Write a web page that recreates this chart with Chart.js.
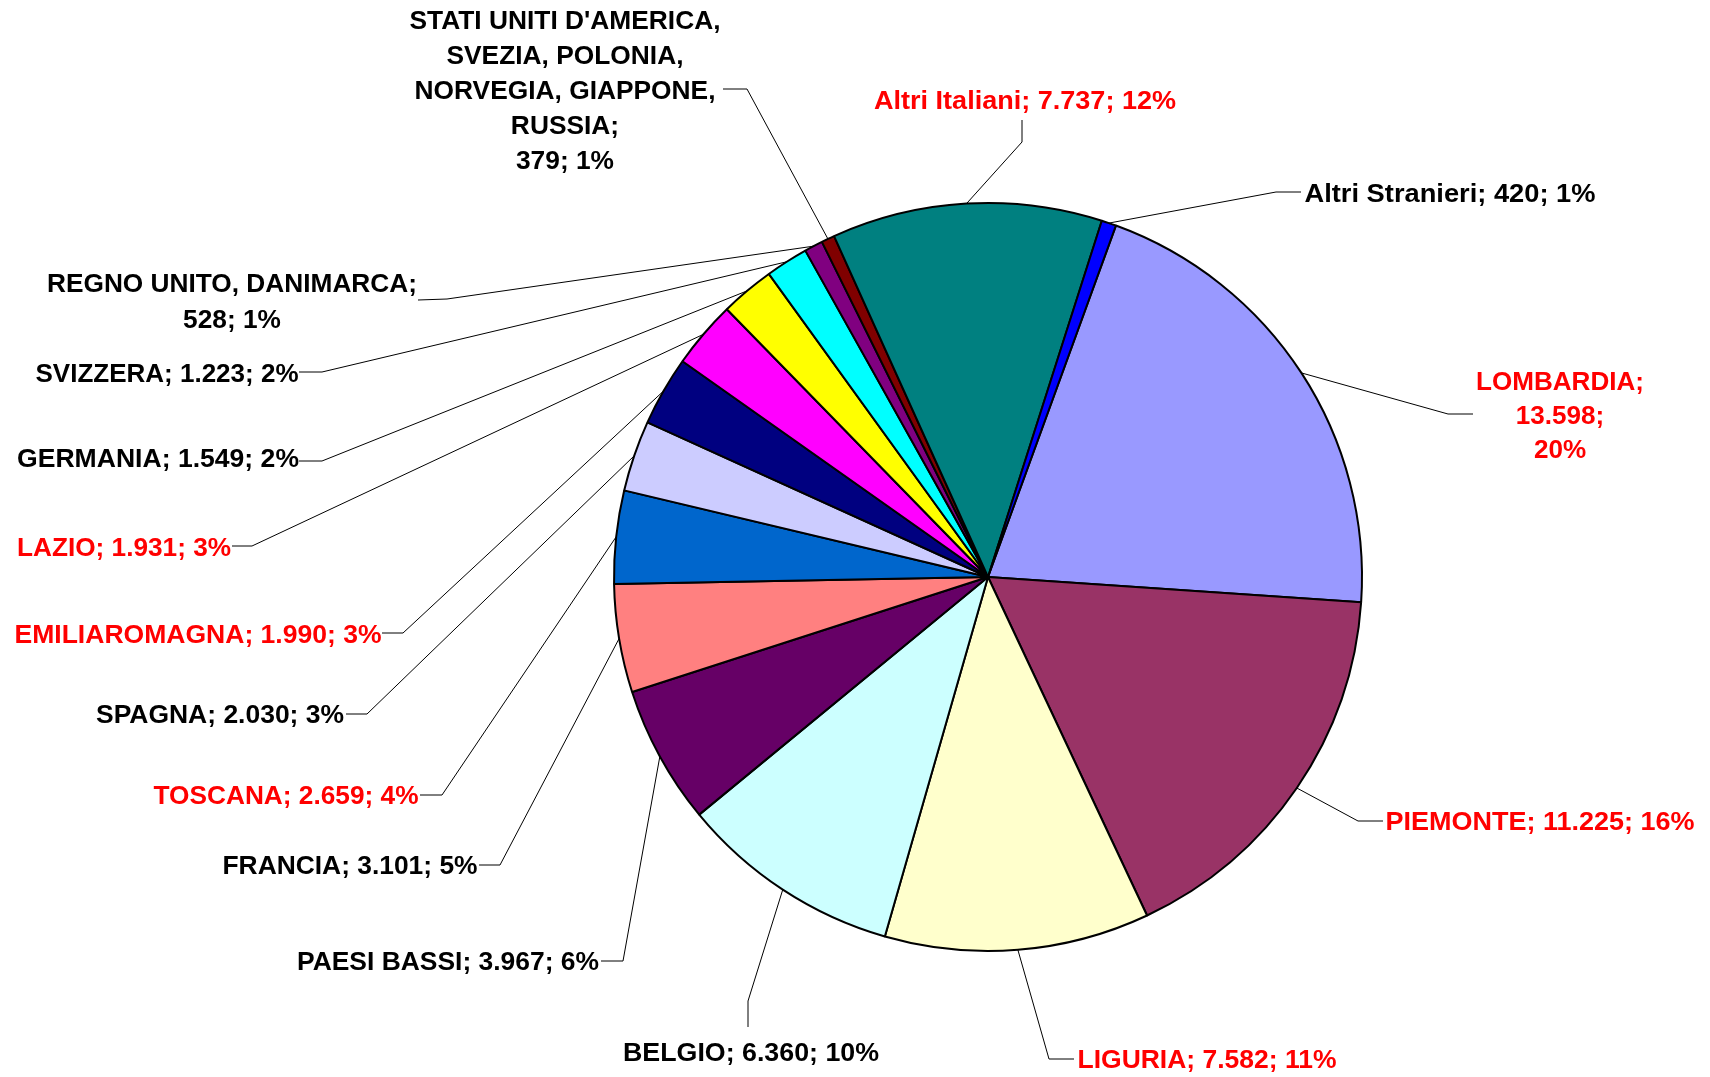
<!DOCTYPE html>
<html>
<head>
<meta charset="utf-8">
<script src="https://cdn.jsdelivr.net/npm/chart.js@4.4.0/dist/chart.umd.min.js"></script>
<style>
  html, body { margin: 0; padding: 0; background: #fff; }
  #wrap { width: 1710px; height: 1077px; }
</style>
</head>
<body>
<div id="wrap"><canvas id="pie" width="1710" height="1077"></canvas></div>
<script>
// data (series order as in the original sheet)
const regions = ['LOMBARDIA', 'PIEMONTE', 'LIGURIA', 'BELGIO', 'PAESI BASSI', 'FRANCIA', 'TOSCANA', 'SPAGNA',
  'EMILIAROMAGNA', 'LAZIO', 'GERMANIA', 'SVIZZERA', 'REGNO UNITO, DANIMARCA',
  "STATI UNITI D'AMERICA, SVEZIA, POLONIA, NORVEGIA, GIAPPONE, RUSSIA", 'Altri Italiani', 'Altri Stranieri'];
const visitors = [13598, 11225, 7582, 6360, 3967, 3101, 2659, 2030, 1990, 1931, 1549, 1223, 528, 379, 7737, 420];
const shares = [20, 16, 11, 10, 6, 5, 4, 3, 3, 3, 2, 2, 1, 1, 12, 1];
const italian = [true, true, true, false, false, false, true, false, true, true, false, false, false, false, true, false];
const sliceColors = ['#9999FF', '#993366', '#FFFFCC', '#CCFFFF', '#660066', '#FF8080', '#0066CC', '#CCCCFF',
  '#000080', '#FF00FF', '#FFFF00', '#00FFFF', '#800080', '#800000', '#008080', '#0000FF'];

// where each label sits and how its leader line leaves it
const labelBoxes = [
  { x: 1560, y: 381, w: 168, lh: 34, wrap: 'parts', from: [1473, 414], knee: [1448, 414] },
  { x: 1540, y: 821, w: 309, from: [1383, 821], knee: [1358, 821] },
  { x: 1207, y: 1059, w: 259, from: [1074, 1059], knee: [1049, 1059] },
  { x: 751, y: 1052, w: 256, from: [748, 1027], knee: [748, 1001] },
  { x: 448, y: 961, w: 302, from: [601, 961], knee: [623, 961] },
  { x: 350, y: 865, w: 255, from: [479, 865], knee: [500, 865] },
  { x: 286, y: 795, w: 265, from: [420, 795], knee: [442, 795] },
  { x: 220, y: 714, w: 248, from: [346, 714], knee: [367, 714] },
  { x: 198, y: 634, w: 367, from: [382, 633], knee: [403, 633] },
  { x: 124, y: 547, w: 214, from: [232, 546], knee: [252, 546] },
  { x: 158, y: 458, w: 282, from: [299, 461], knee: [322, 461] },
  { x: 167, y: 373, w: 263, from: [299, 372], knee: [322, 372] },
  { x: 232, y: 283, w: 370, lh: 36, groups: [2], from: [418, 300], knee: [447, 299] },
  { x: 565, y: 20, w: 311, lh: 35, groups: [1, 2, 2, 1], from: [723, 89], knee: [747, 89] },
  { x: 1025, y: 100, w: 302, from: [1022, 120], knee: [1022, 142] },
  { x: 1450, y: 193, w: 291, from: [1301, 192], knee: [1276, 192] }
];

const FONT_SIZE = 26;
const fmt = v => String(v).replace(/\B(?=(\d{3})+(?!\d))/g, '.');

function labelLines(i) {
  const box = labelBoxes[i];
  const value = fmt(visitors[i]);
  const pct = shares[i] + '%';
  if (box.wrap === 'parts') return [regions[i] + ';', value + ';', pct];
  if (box.groups) {
    const names = regions[i].split(', ');
    const lines = [];
    let pos = 0;
    box.groups.forEach((n, g) => {
      const part = names.slice(pos, pos + n).join(', ');
      pos += n;
      lines.push(part + (g === box.groups.length - 1 ? ';' : ','));
    });
    lines.push(value + '; ' + pct);
    return lines;
  }
  return [regions[i] + '; ' + value + '; ' + pct];
}

const pieLabels = {
  id: 'pieLabels',
  afterDatasetsDraw(chart) {
    const ctx = chart.ctx;
    const arcs = chart.getDatasetMeta(0).data;
    ctx.save();
    ctx.strokeStyle = '#000';
    ctx.lineWidth = 1;
    arcs.forEach((arc, i) => {
      const { x, y, startAngle, endAngle, outerRadius } = arc.getProps(['x', 'y', 'startAngle', 'endAngle', 'outerRadius'], true);
      const mid = (startAngle + endAngle) / 2;
      const box = labelBoxes[i];
      ctx.beginPath();
      ctx.moveTo(box.from[0], box.from[1]);
      ctx.lineTo(box.knee[0], box.knee[1]);
      ctx.lineTo(x + Math.cos(mid) * outerRadius, y + Math.sin(mid) * outerRadius);
      ctx.stroke();
    });

    ctx.font = 'bold ' + FONT_SIZE + 'px "Liberation Sans", Arial, sans-serif';
    ctx.textAlign = 'center';
    ctx.textBaseline = 'alphabetic';
    labelBoxes.forEach((box, i) => {
      const lines = labelLines(i);
      const widest = Math.max(...lines.map(l => ctx.measureText(l).width));
      const sx = box.w / widest;
      ctx.fillStyle = italian[i] ? '#FF0000' : '#000000';
      lines.forEach((line, k) => {
        const baseY = box.y + k * (box.lh || 0) + FONT_SIZE * 0.36;
        ctx.save();
        ctx.translate(box.x, baseY);
        ctx.scale(sx, 1);
        ctx.fillText(line, 0, 0);
        ctx.restore();
      });
    });
    ctx.restore();
  }
};

new Chart(document.getElementById('pie'), {
  type: 'pie',
  data: {
    labels: regions,
    datasets: [{
      data: visitors,
      backgroundColor: sliceColors,
      borderColor: '#000000',
      borderWidth: 2
    }]
  },
  options: {
    responsive: false,
    animation: false,
    rotation: 20,
    radius: 374,
    layout: { padding: { left: 614, right: 348, top: 203, bottom: 126 } },
    plugins: { legend: { display: false }, tooltip: { enabled: false } }
  },
  plugins: [pieLabels]
});
</script>
</body>
</html>
